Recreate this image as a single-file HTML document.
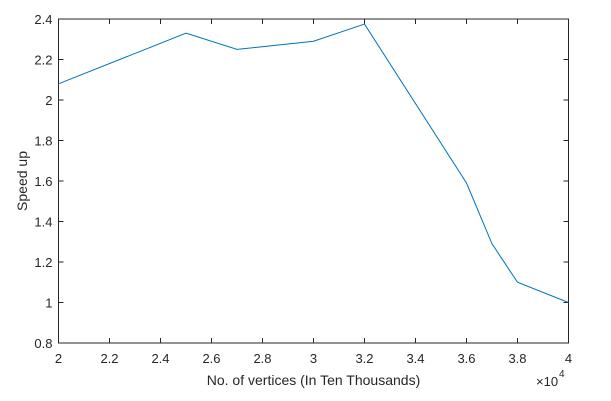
<!DOCTYPE html>
<html><head><meta charset="utf-8"><style>
body{margin:0;background:#fff;}
svg{display:block;font-family:"Liberation Sans",Arial,sans-serif;}
</style></head><body>
<svg id="chart" width="611" height="401" viewBox="0 0 611 401"></svg>
<script>
const xValues=[2.0,2.5,2.7,3.0,3.2,3.6,3.7,3.8,4.0];
const speedup=[2.08,2.33,2.25,2.29,2.375,1.59,1.29,1.10,1.0];
const xTicks=[2,2.2,2.4,2.6,2.8,3,3.2,3.4,3.6,3.8,4];
const yTicks=[0.8,1,1.2,1.4,1.6,1.8,2,2.2,2.4];
const L=58.5,R=568.5,T=19,B=343;
const sx=v=>L+(v-2)/(4-2)*(R-L);
const sy=v=>B-(v-0.8)/(2.4-0.8)*(B-T);
const svg=document.getElementById('chart');
const NS='http://www.w3.org/2000/svg';
function mk(t,a,p){const e=document.createElementNS(NS,t);for(const k in a)e.setAttribute(k,a[k]);(p||svg).appendChild(e);return e;}
let e;
e=mk('rect',{x:L,y:T,width:R-L,height:B-T,fill:'#fff',stroke:'#262626','stroke-width':1});


xTicks.forEach(v=>{const x=sx(v);
 mk('line',{x1:x,x2:x,y1:B,y2:B-5,stroke:'#262626'});
 mk('line',{x1:x,x2:x,y1:T,y2:T+5,stroke:'#262626'});
 e=mk('text',{x:x,y:B+20,'text-anchor':'middle','font-size':13,fill:'#262626'});e.textContent=String(v);
 
 
});
yTicks.forEach(v=>{const y=sy(v);
 mk('line',{x1:L,x2:L+5,y1:y,y2:y,stroke:'#262626'});
 mk('line',{x1:R,x2:R-5,y1:y,y2:y,stroke:'#262626'});
 e=mk('text',{x:L-6,y:y+5,'text-anchor':'end','font-size':13,fill:'#262626'});e.textContent=String(v);
 
 
});
e=mk('polyline',{points:xValues.map((v,i)=>sx(v)+','+sy(speedup[i])).join(' '),fill:'none',stroke:'#0072bd','stroke-width':1});


e=mk('text',{x:(L+R)/2,y:385,'text-anchor':'middle','font-size':14,fill:'#262626'});e.textContent='No. of vertices (In Ten Thousands)';


e=mk('text',{x:0,y:0,'text-anchor':'middle','font-size':14,fill:'#262626',transform:`translate(27,${(T+B)/2}) rotate(-90)`});e.textContent='Speed up';


e=mk('text',{x:536,y:386,'font-size':13,fill:'#262626'});e.textContent='×10';


e=mk('text',{x:559,y:377,'font-size':10,fill:'#262626'});e.textContent='4';


</script>
</body></html>
